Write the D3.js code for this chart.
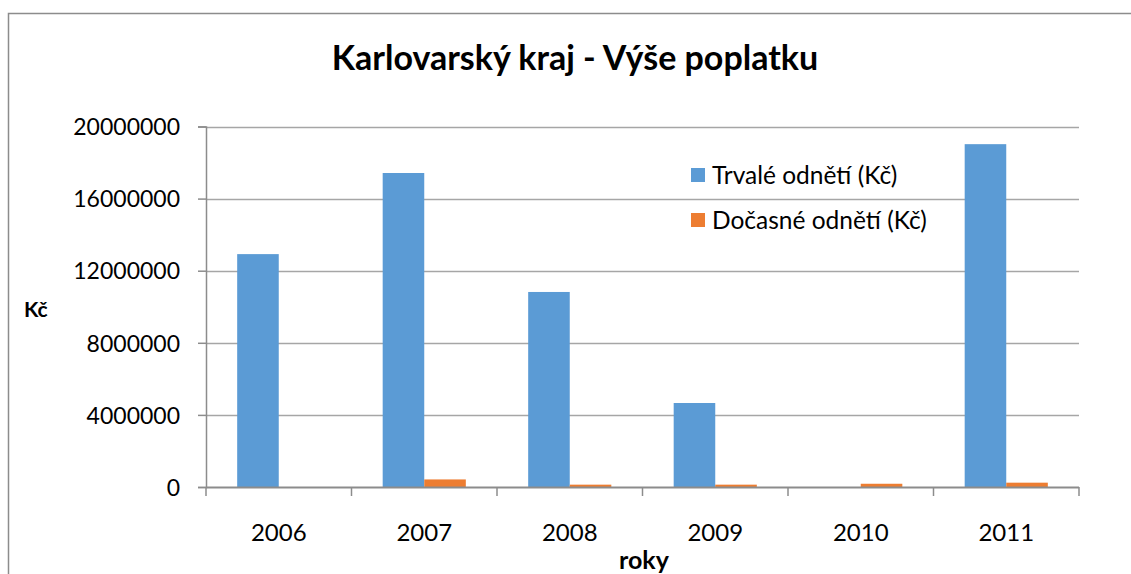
<!DOCTYPE html>
<html>
<head>
<meta charset="utf-8">
<script src="https://cdn.jsdelivr.net/npm/d3@7"></script>
<style>
  html, body { margin: 0; padding: 0; background: #fff; }
  svg { display: block; }
  text { font-family: Lato, "Open Sans", sans-serif; fill: #000; }
</style>
</head>
<body>
<script>
const years = ["2006", "2007", "2008", "2009", "2010", "2011"];
const seriesNames = ["Trvalé odnětí (Kč)", "Dočasné odnětí (Kč)"];
const trvale = [12920000, 17420000, 10820000, 4660000, 0, 19020000];
const docasne = [0, 420000, 130000, 130000, 180000, 240000];
const yTicks = [0, 4000000, 8000000, 12000000, 16000000, 20000000];
const colors = ["#5B9BD5", "#ED7D31"];

(function () {
const W = 1131, H = 574;
const svg = d3.select("body").append("svg").attr("width", W).attr("height", H);

// outer chart border (extends past right/bottom edges)
svg.append("rect").attr("x", 8.5).attr("y", 13.5).attr("width", W + 10).attr("height", H + 10)
  .attr("fill", "#fff").attr("stroke", "#8c8c8c").attr("stroke-width", 1.5);

const pLeft = 206, pRight = 1079, pTop = 126.5, pBottom = 487;

const x = d3.scaleBand().domain(years).range([pLeft, pRight]).paddingInner(0).paddingOuter(0);
const bw = x.bandwidth() / 3.5;
const xs = d3.scaleBand().domain([0, 1]).range([0.75 * bw, 2.75 * bw]);
const y = d3.scaleLinear().domain([0, 20000000]).range([pBottom, pTop]);

// gridlines
svg.append("g").selectAll("line").data(yTicks.filter(d => d > 0)).join("line")
  .attr("x1", pLeft).attr("x2", pRight)
  .attr("y1", d => Math.round(y(d)) + 0.5).attr("y2", d => Math.round(y(d)) + 0.5)
  .attr("stroke", "#a6a6a6").attr("stroke-width", 1.5);

// bars
const data = [trvale, docasne];
data.forEach((vals, si) => {
  svg.append("g").selectAll("rect").data(vals.map((v, i) => ({ v, i }))).join("rect")
    .attr("x", d => x(years[d.i]) + xs(si))
    .attr("width", xs.bandwidth())
    .attr("y", d => y(d.v))
    .attr("height", d => pBottom - y(d.v))
    .attr("fill", colors[si]);
});

// y axis
const yAxis = d3.axisLeft(y).tickValues(yTicks).tickSize(8).tickPadding(18).tickFormat(d3.format("d"));
const gy = svg.append("g").attr("transform", `translate(${pLeft},0)`).call(yAxis);
gy.select(".domain").attr("stroke", "#8c8c8c").attr("stroke-width", 1.5);
gy.selectAll(".tick line").attr("stroke", "#8c8c8c").attr("stroke-width", 1.5);
gy.selectAll(".tick text").attr("font-size", 23).attr("font-family", "Lato").attr("fill", "#000").attr("dy", "0.36em");

// x axis
const xAxis = d3.axisBottom(x).tickSize(0).tickPadding(37);
const gx = svg.append("g").attr("transform", `translate(0,${pBottom})`).call(xAxis);
gx.select(".domain").remove();
gx.selectAll(".tick text").attr("font-size", 24).attr("font-family", "Lato").attr("fill", "#000");
svg.append("line").attr("x1", pLeft).attr("x2", pRight).attr("y1", pBottom + 0.5).attr("y2", pBottom + 0.5)
  .attr("stroke", "#8c8c8c").attr("stroke-width", 2);
const boundaries = years.map(d => x(d)).concat([pRight]);
svg.append("g").selectAll("line").data(boundaries).join("line")
  .attr("x1", d => d).attr("x2", d => d).attr("y1", pBottom).attr("y2", pBottom + 9)
  .attr("stroke", "#8c8c8c").attr("stroke-width", 1.5);

// title
svg.append("text").attr("x", 575).attr("y", 70).attr("text-anchor", "middle")
  .attr("font-size", 34).attr("font-weight", "bold").text("Karlovarský kraj - Výše poplatku");

// axis titles
svg.append("text").attr("x", 24).attr("y", 317).attr("font-size", 21).attr("font-weight", "bold").text("Kč");
svg.append("text").attr("x", 644).attr("y", 569).attr("text-anchor", "middle")
  .attr("font-size", 25).attr("font-weight", "bold").text("roky");

// legend
const lg = svg.append("g");
seriesNames.forEach((name, i) => {
  const ly = 175 + i * 45;
  lg.append("rect").attr("x", 691).attr("y", ly - 7).attr("width", 14).attr("height", 14).attr("fill", colors[i]);
  lg.append("text").attr("x", 712).attr("y", ly).attr("dy", "0.36em").attr("font-size", 24.5).text(name);
});
})();
</script>
</body>
</html>
